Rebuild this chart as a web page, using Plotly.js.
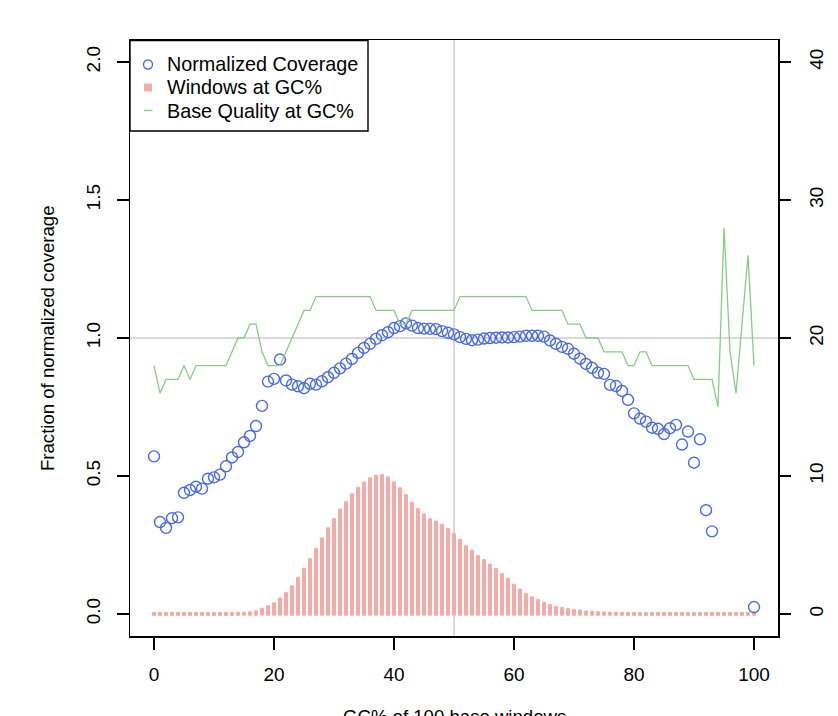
<!DOCTYPE html>
<html>
<head>
<meta charset="utf-8">
<script src="https://cdn.plot.ly/plotly-3.0.1.min.js"></script>
<style>html,body{margin:0;padding:0;background:#fff;}#chart{width:838px;height:716px;}</style>
</head>
<body>
<div id="chart"></div>
<script>
// GC% of 100 base windows
const gc = Array.from({length: 101}, (_, i) => i);

// Normalized coverage (null = not plotted)
const coverage = [
  0.571, 0.333, 0.312, 0.347, 0.350, 0.439, 0.449, 0.461, 0.454, 0.490,
  0.495, 0.505, 0.535, 0.567, 0.587, 0.622, 0.645, 0.681, 0.754, 0.842,
  0.852, 0.922, 0.846, 0.831, 0.825, 0.818, 0.834, 0.831, 0.843, 0.858,
  0.874, 0.890, 0.907, 0.924, 0.946, 0.964, 0.979, 0.997, 1.010, 1.021,
  1.036, 1.043, 1.053, 1.045, 1.036, 1.034, 1.033, 1.032, 1.025, 1.019,
  1.013, 1.003, 0.997, 0.992, 0.994, 0.998, 1.000, 1.001, 1.002, 1.002,
  1.003, 1.005, 1.008, 1.008, 1.008, 1.005, 0.991, 0.979, 0.968, 0.961,
  0.943, 0.925, 0.906, 0.892, 0.874, 0.870, 0.830, 0.826, 0.808, 0.776,
  0.727, 0.708, 0.697, 0.675, 0.671, 0.652, 0.673, 0.685, 0.614, 0.661,
  0.548, 0.633, 0.376, 0.299, null, null, null, null, null, null,
  0.025
];

// Windows at GC% (scaled to the left axis)
const windows = [
  0, 0, 0, 0, 0, 0, 0, 0, 0, 0,
  0, 0, 0, 0.0005, 0.001, 0.0015, 0.003, 0.007, 0.016, 0.025,
  0.036, 0.053, 0.073, 0.097, 0.128, 0.161, 0.196, 0.233, 0.271, 0.307,
  0.341, 0.375, 0.403, 0.431, 0.454, 0.473, 0.489, 0.498, 0.500, 0.491,
  0.474, 0.452, 0.428, 0.400, 0.377, 0.357, 0.341, 0.332, 0.320, 0.305,
  0.287, 0.266, 0.243, 0.226, 0.207, 0.192, 0.176, 0.160, 0.142, 0.124,
  0.103, 0.085, 0.069, 0.057, 0.047, 0.037, 0.029, 0.023, 0.018, 0.015,
  0.011, 0.009, 0.006, 0.004, 0.003, 0.002, 0.0015, 0.001, 0.0005, 0,
  0, 0, 0, 0, 0, 0, 0, 0, 0, 0,
  0, 0, 0, 0, 0, 0, 0, 0, 0, 0,
  0
];

// Base quality at GC% (right axis)
const quality = [
  18, 16, 17, 17, 17, 18, 17, 18, 18, 18,
  18, 18, 18, 19, 20, 20, 21, 21, 19, 18,
  18, 18, 19, 20, 21, 22, 22, 23, 23, 23,
  23, 23, 23, 23, 23, 23, 23, 22, 22, 22,
  22, 21, 21, 22, 22, 22, 22, 22, 22, 22,
  22, 23, 23, 23, 23, 23, 23, 23, 23, 23,
  23, 23, 23, 22, 22, 22, 22, 22, 22, 21,
  21, 21, 20, 20, 20, 19, 19, 19, 19, 18,
  18, 19, 19, 18, 18, 18, 18, 18, 18, 18,
  17, 17, 17, 17, 15, 28, 19, 16, 21, 26,
  18
];

const leftTicks = [0, 0.5, 1.0, 1.5, 2.0];
const leftTickText = ["0.0", "0.5", "1.0", "1.5", "2.0"];
const rightTicks = [0, 10, 20, 30, 40];
const xTicks = [0, 20, 40, 60, 80, 100];
const legendLabels = ["Normalized Coverage", "Windows at GC%", "Base Quality at GC%"];

const blue = "#4a6ae0";
const pink = "rgb(244,170,166)";
const green = "rgb(134,204,134)";
const FONT = "Liberation Sans, Arial, Helvetica, sans-serif";
const TICKSIZE = 19;

// plot area in pixels (for placing the hand-made R style legend)
const PL = 130, PR = 778, PT = 40, PB = 636;
const px = v => (v - PL) / (PR - PL);
const py = v => (PB - v) / (PB - PT);

const traces = [
  {
    type: "bar", x: gc, y: windows, width: 0.66,
    marker: {color: pink, line: {width: 0}},
    showlegend: false, hoverinfo: "skip", name: "Windows at GC%"
  },
  {
    type: "scatter", mode: "markers", x: gc, y: windows.map(() => 0),
    marker: {symbol: "circle", size: 4.2, color: pink},
    showlegend: false, hoverinfo: "skip"
  },
  {
    type: "scatter", mode: "markers", x: gc, y: windows,
    marker: {symbol: "circle", size: 4.2, color: pink},
    showlegend: false, hoverinfo: "skip"
  },
  {
    type: "scatter", mode: "lines", x: gc, y: quality, yaxis: "y2",
    line: {color: green, width: 1.3},
    showlegend: false, name: "Base Quality at GC%"
  },
  {
    type: "scatter", mode: "markers", x: gc, y: coverage,
    marker: {symbol: "circle-open", size: 11, color: blue, line: {width: 1.4, color: blue}},
    name: "Normalized Coverage", showlegend: false
  }
];

const rowY = [64.5, 87.5, 110.5];

const shapes = [
  {type: "line", xref: "x", yref: "paper", x0: 50, x1: 50, y0: 0, y1: 1,
   line: {color: "#cccccc", width: 1.5}, layer: "below"},
  {type: "line", xref: "paper", yref: "y", x0: 0, x1: 1, y0: 1.0, y1: 1.0,
   line: {color: "#cccccc", width: 1.5}, layer: "below"},
  // legend box
  {type: "rect", xref: "paper", yref: "paper", x0: px(130), x1: px(368), y0: py(131), y1: py(40.5),
   line: {color: "#000", width: 1.4}, fillcolor: "#ffffff", layer: "above"},
  // legend symbols
  {type: "circle", xref: "paper", yref: "paper", x0: px(143.5), x1: px(152.5), y0: py(rowY[0] + 4.5), y1: py(rowY[0] - 4.5),
   line: {color: blue, width: 1.4}, fillcolor: "rgba(0,0,0,0)", layer: "above"},
  {type: "rect", xref: "paper", yref: "paper", x0: px(144), x1: px(152), y0: py(rowY[1] + 4), y1: py(rowY[1] - 4),
   line: {width: 0}, fillcolor: pink, layer: "above"},
  {type: "line", xref: "paper", yref: "paper", x0: px(144), x1: px(152.5), y0: py(rowY[2]), y1: py(rowY[2]),
   line: {color: green, width: 1.3}, layer: "above"}
];

const annotations = [
  {text: "GC% of 100 base windows", xref: "paper", yref: "paper",
   x: 0.5, y: -0.1345, xanchor: "center", yanchor: "middle",
   showarrow: false, font: {family: FONT, size: 18.6}},
  {text: "Fraction of normalized coverage", xref: "paper", yref: "paper",
   x: -0.128, y: 0.5, xanchor: "center", yanchor: "middle", textangle: -90,
   showarrow: false, font: {family: FONT, size: 18.6}}
].concat(legendLabels.map((t, i) => ({
  text: t, xref: "paper", yref: "paper", x: px(164.5), y: py(rowY[i]),
  xanchor: "left", yanchor: "middle", showarrow: false,
  font: {family: FONT, size: 19.8, color: "#000"}
})));

const layout = {
  width: 838, height: 716,
  margin: {l: PL, r: 838 - PR, t: PT, b: 716 - PB, pad: 0},
  paper_bgcolor: "#ffffff", plot_bgcolor: "#ffffff",
  font: {family: FONT, size: TICKSIZE, color: "#000"},
  bargap: 0,
  showlegend: false,
  xaxis: {
    range: [-4, 104], tickvals: xTicks, ticktext: xTicks.map(String),
    ticks: "outside", ticklen: 12, tickwidth: 1.3, tickcolor: "#000",
    showline: true, mirror: true, linecolor: "#000", linewidth: 1.5,
    showgrid: false, zeroline: false, ticklabelstandoff: 9,
    tickfont: {family: FONT, size: TICKSIZE}
  },
  yaxis: {
    range: [-0.08, 2.08], tickvals: leftTicks, ticktext: leftTickText,
    ticks: "outside", ticklen: 12, tickwidth: 1.3, tickcolor: "#000",
    showline: true, mirror: true, linecolor: "#000", linewidth: 1.5,
    showgrid: false, zeroline: false, tickangle: -90, ticklabelstandoff: 9,
    tickfont: {family: FONT, size: TICKSIZE}
  },
  yaxis2: {
    range: [-1.6, 41.6], tickvals: rightTicks, ticktext: rightTicks.map(String),
    overlaying: "y", side: "right",
    ticks: "outside", ticklen: 12, tickwidth: 1.3, tickcolor: "#000",
    showline: false, showgrid: false, zeroline: false, tickangle: -90,
    ticklabelstandoff: 9, tickfont: {family: FONT, size: TICKSIZE}
  },
  shapes: shapes,
  annotations: annotations
};

Plotly.newPlot("chart", traces, layout, {staticPlot: true, displayModeBar: false});
</script>
</body>
</html>
